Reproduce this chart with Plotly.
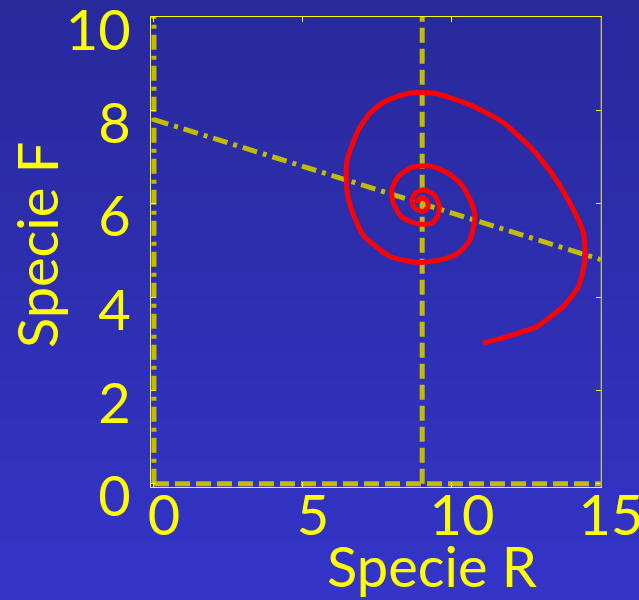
import plotly.graph_objects as go

# ---- data ----
traj_R = [11.05, 11.84, 12.84, 13.73, 14.24, 14.46, 14.41, 13.96, 13.35, 12.62, 11.67, 10.49,
          9.37, 8.59, 7.75, 7.25, 6.86, 6.47, 6.47, 6.63, 7.02, 7.92, 8.87, 9.65, 10.21, 10.60,
          10.77, 10.66, 10.33, 9.88, 9.26, 8.65, 8.20, 7.98, 8.03, 8.31, 8.82, 9.32, 9.54, 9.57,
          9.40, 9.04, 8.76, 8.65, 8.76, 9.04, 9.20, 9.15, 8.93, 8.84]
traj_F = [3.01, 3.15, 3.37, 3.80, 4.22, 4.80, 5.37, 6.01, 6.65, 7.22, 7.76, 8.15,
          8.37, 8.37, 8.19, 7.94, 7.58, 6.90, 6.30, 5.87, 5.33, 4.87, 4.74, 4.80, 4.94, 5.22,
          5.72, 6.01, 6.40, 6.65, 6.81, 6.78, 6.58, 6.30, 6.01, 5.72, 5.57, 5.58, 5.76, 5.97,
          6.19, 6.30, 6.22, 6.04, 5.90, 5.83, 5.94, 6.08, 6.12, 6.01]

# isoclines of species F (dashed): R = 9 and F = 0
iso_F_vert_R = [9, 9]
iso_F_vert_F = [0, 10]
iso_F_horiz_R = [0, 15]
iso_F_horiz_F = [0, 0]
# isoclines of species R (dash-dot): R = 0 and sloped line
iso_R_vert_R = [0, 0]
iso_R_vert_F = [0, 10]
iso_R_slope_R = [0, 15]
iso_R_slope_F = [7.8, 4.8]

x_ticks = [0, 5, 10, 15]
y_ticks = [0, 2, 4, 6, 8, 10]
x_title = "Specie R"
y_title = "Specie F"

# ---- styles ----
ISO = "#C2BC00"
YEL = "#FFFF00"
FONT = "Lato"
W, H = 639, 600
ML, MR, MT, MB = 151, 38, 17, 113

fig = go.Figure()
dash1 = "15px,6px"
dash2 = "15px,6px,4px,6px"
fig.add_trace(go.Scatter(x=iso_F_vert_R, y=iso_F_vert_F, mode="lines",
                         line=dict(color=ISO, width=5, dash=dash1), hoverinfo="skip"))
fig.add_trace(go.Scatter(x=iso_F_horiz_R, y=iso_F_horiz_F, mode="lines",
                         line=dict(color=ISO, width=5, dash=dash1), hoverinfo="skip"))
fig.add_trace(go.Scatter(x=iso_R_vert_R, y=iso_R_vert_F, mode="lines",
                         line=dict(color=ISO, width=5, dash=dash2), hoverinfo="skip"))
fig.add_trace(go.Scatter(x=iso_R_slope_R, y=iso_R_slope_F, mode="lines",
                         line=dict(color=ISO, width=5, dash=dash2), hoverinfo="skip"))
fig.add_trace(go.Scatter(x=traj_R, y=traj_F, mode="lines",
                         line=dict(color="#FF0000", width=5, shape="spline", smoothing=0.6),
                         hoverinfo="skip"))

# gradient background
pw = W - ML - MR
ph = H - MT - MB
n = 60
top = (40, 41, 155)
bot = (52, 52, 200)
shapes = []
for i in range(n):
    t = i / (n - 1)
    c = tuple(round(top[k] + (bot[k] - top[k]) * t) for k in range(3))
    y_top_px = i * H / n - (1 if i == 0 else 0)
    y_bot_px = (i + 1) * H / n + 1
    shapes.append(dict(type="rect", xref="paper", yref="paper", layer="below",
                       x0=-ML / pw - 0.02, x1=1 + MR / pw + 0.02,
                       y0=(H - MB - y_bot_px) / ph, y1=(H - MB - y_top_px) / ph,
                       line=dict(width=0), fillcolor="rgb(%d,%d,%d)" % c))
# grey right border
shapes.append(dict(type="line", xref="paper", yref="paper", x0=1, x1=1, y0=0, y1=1,
                   line=dict(color="#8888AA", width=1), layer="above"))

fig.update_layout(
    width=W, height=H,
    margin=dict(l=ML, r=MR, t=MT, b=MB, autoexpand=False),
    paper_bgcolor="rgb(46,46,178)",
    plot_bgcolor="rgba(0,0,0,0)",
    showlegend=False,
    shapes=shapes,
    font=dict(family=FONT, color=YEL),
    annotations=[
        dict(text=x_title, xref="paper", yref="paper", x=0.624, y=-0.166,
             xanchor="center", yanchor="middle", showarrow=False,
             font=dict(family=FONT, size=56, color=YEL)),
        dict(text=y_title, xref="paper", yref="paper", x=-0.253, y=0.515,
             xanchor="center", yanchor="middle", showarrow=False, textangle=-90,
             font=dict(family=FONT, size=56, color=YEL)),
    ],
)
fig.update_xaxes(range=[-0.1, 15], tickvals=x_ticks, ticktext=[str(v) for v in x_ticks],
                 automargin=False, ticklabeloverflow="allow",
                 showgrid=False, zeroline=False, showline=True, linecolor=YEL, linewidth=1,
                 mirror="ticks", ticks="inside", ticklen=5, tickcolor=YEL, tickwidth=1,
                 tickfont=dict(family=FONT, size=56, color=YEL),
                 ticklabelshift=10, ticklabelstandoff=-20)
fig.update_yaxes(range=[-0.07, 10], tickvals=y_ticks, ticktext=[str(v) for v in y_ticks],
                 automargin=False, ticklabeloverflow="allow",
                 showgrid=False, zeroline=False, showline=True, linecolor=YEL, linewidth=1,
                 mirror="ticks", ticks="inside", ticklen=5, tickcolor=YEL, tickwidth=1,
                 tickfont=dict(family=FONT, size=56, color=YEL),
                 ticklabelshift=13, ticklabelstandoff=8)

fig.write_html("out.html", config={"displayModeBar": False},
               post_script="document.body.style.margin='0';document.body.style.background='rgb(46,46,178)';")
